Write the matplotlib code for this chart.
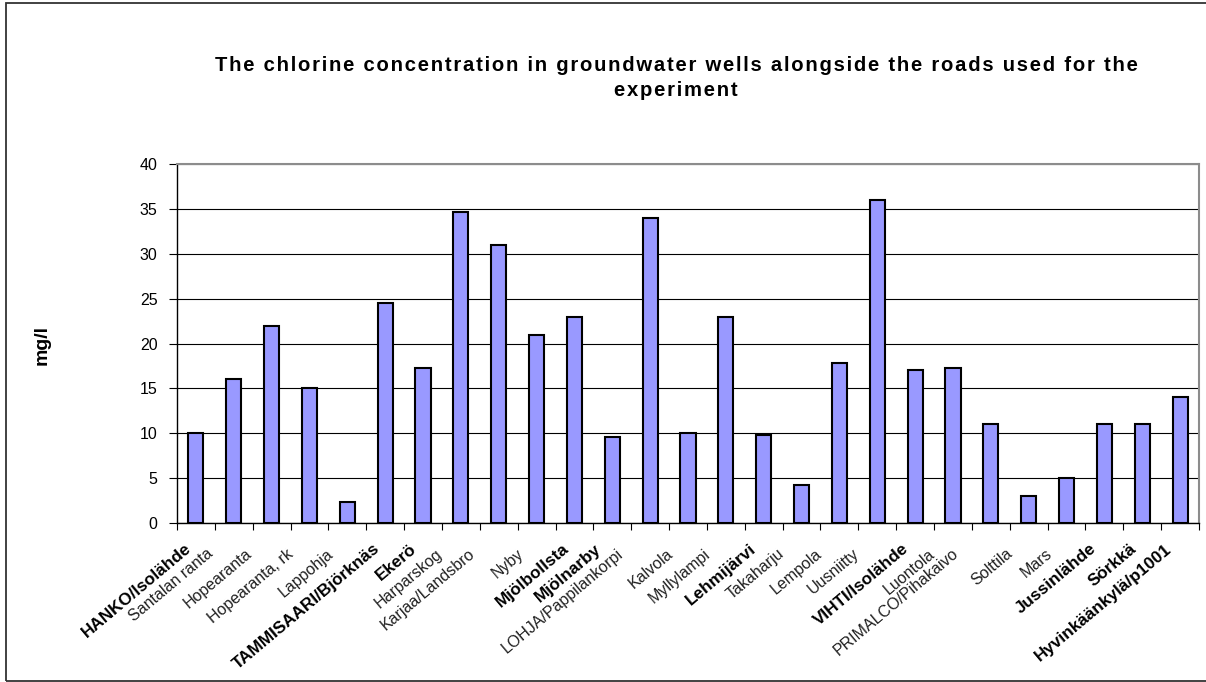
import matplotlib
matplotlib.use('Agg')
import matplotlib.pyplot as plt
from matplotlib.patches import Rectangle
import numpy as np

# kaivot ja kloridipitoisuus (mg/l)
stations = ['HANKO/Isolähde', 'Santalan ranta', 'Hopearanta', 'Hopearanta, rk',
            'Lappohja', 'TAMMISAARI/Björknäs', 'Ekerö', 'Harparskog',
            'Karjaa/Landsbro', 'Nyby', 'Mjölbollsta', 'Mjölnarby',
            'LOHJA/Pappilankorpi', 'Kalvola', 'Myllylampi', 'Lehmijärvi',
            'Takaharju', 'Lempola', 'Uusniitty', 'VIHTI/Isolähde', 'Luontola',
            'PRIMALCO/Pihakaivo', 'Solttila', 'Mars', 'Jussinlähde', 'Sörkkä',
            'Hyvinkäänkylä/p1001']
chlorine = [10, 16, 22, 15, 2.3, 24.5, 17.3, 34.7, 31, 21, 23, 9.6, 34,
            10, 23, 9.8, 4.2, 17.8, 36, 17, 17.3, 11, 3, 5, 11, 11, 14]
yticks = list(range(0, 41, 5))

title_lines = ['The chlorine concentration in groundwater wells alongside the roads used for the',
               'experiment']
ylabel = 'mg/l'

# nimet jotka on lihavoitu alkuperäisessä kuvassa
bold_names = {'HANKO/Isolähde', 'TAMMISAARI/Björknäs', 'Ekerö', 'Mjölbollsta',
              'Mjölnarby', 'Lehmijärvi', 'VIHTI/Isolähde', 'Jussinlähde',
              'Sörkkä', 'Hyvinkäänkylä/p1001'}
# tekstin loppupään siirto pylvään keskeltä (pikseleinä), Excelin sekava asettelu
label_dx = [-12, -28, -27, -23, -21, -12, -13, -25, -31, -20, -12, -18, -34,
            -22, -22, -14, -24, -24, -25, -13, -25, -39, -23, -21, -15, -13, -15]

plt.rcParams['font.family'] = ['Liberation Sans', 'DejaVu Sans']

W, H = 1206, 682
fig = plt.figure(figsize=(W/100, H/100), dpi=100)
ax = fig.add_axes([177/W, 1-523/H, (1199-177)/W, (523-164)/H])

x = np.arange(len(stations))
ax.bar(x, chlorine, width=0.4, color='#9999ff', edgecolor='black',
       linewidth=1.5, zorder=3)
ax.set_xlim(-0.5, len(stations)-0.5)
ax.set_ylim(0, 40)
ax.set_yticks(yticks)
ax.yaxis.grid(True, color='black', linewidth=0.8)
ax.set_axisbelow(True)

ax.set_xticks(np.arange(len(stations)+1)-0.5)
ax.set_xticklabels([])
ax.tick_params(axis='x', length=5, width=0.8, direction='out')
ax.tick_params(axis='y', length=6, width=0.8, labelsize=11.5, pad=8)

for side in ['top', 'right']:
  ax.spines[side].set_color('#8c8c8c')
  ax.spines[side].set_linewidth(1.5)
for side in ['left', 'bottom']:
  ax.spines[side].set_color('black')
  ax.spines[side].set_linewidth(1.0)

# kuva on venytetty vaakasuunnassa, joten 45 asteen teksti näyttää n. 40 asteelta
for i, name in enumerate(stations):
  bold = name in bold_names
  ax.annotate(name, xy=(i, 0), xycoords=('data', 'axes fraction'),
              xytext=(label_dx[i], -18 if bold else -23),
              textcoords='offset pixels',
              rotation=40, rotation_mode='anchor', ha='right', va='top',
              fontsize=12.3 if bold else 11.5,
              fontweight='bold' if bold else 'normal',
              color='black' if bold else '#202020')

# otsikko harvennetuilla kirjaimilla
def spaced(s):
  return '\u200a'.join(s)

fig.text(676/W, 1-71/H, spaced(title_lines[0]), ha='center', va='baseline',
         fontsize=14.6, fontweight='bold')
fig.text(676/W, 1-96/H, spaced(title_lines[1]), ha='center', va='baseline',
         fontsize=14.6, fontweight='bold')

fig.text(42/W, 1-345/H, ylabel, rotation=90, ha='center', va='center',
         fontsize=14, fontweight='bold')

# kehys koko kuvan ympärillä
fig.patches.append(Rectangle((6/W, 1-681/H), 1.2, (681-3)/H,
                             transform=fig.transFigure, fill=False,
                             edgecolor='#333333', linewidth=1.3))

fig.savefig('out.png', dpi=100)
